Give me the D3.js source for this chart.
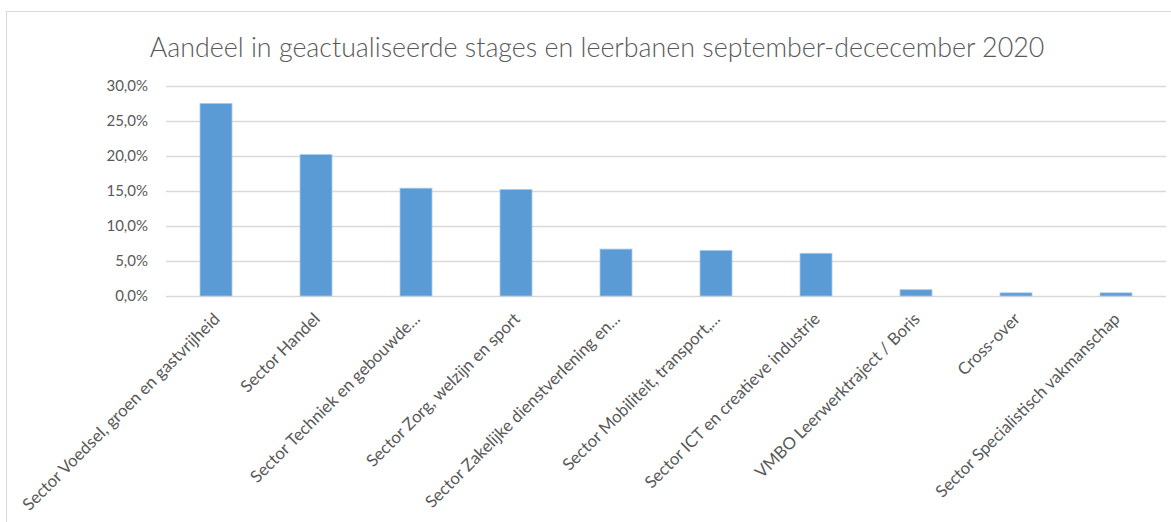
<!DOCTYPE html>
<html><head><meta charset="utf-8">
<script src="https://cdn.jsdelivr.net/npm/d3@7"></script>
<style>body{margin:0;background:#fff}svg{display:block}</style>
</head><body>
<script>
const title = "Aandeel in geactualiseerde stages en leerbanen september-dececember 2020";
const categories = [
  "Sector Voedsel, groen en gastvrijheid",
  "Sector Handel",
  "Sector Techniek en gebouwde...",
  "Sector Zorg, welzijn en sport",
  "Sector Zakelijke dienstverlening en...",
  "Sector Mobiliteit, transport,...",
  "Sector ICT en creatieve industrie",
  "VMBO Leerwerktraject / Boris",
  "Cross-over",
  "Sector Specialistisch vakmanschap"
];
const values = [27.5, 20.2, 15.4, 15.2, 6.7, 6.5, 6.1, 0.9, 0.45, 0.45];
const yTicks = [0, 5, 10, 15, 20, 25, 30];

const W = 1171, H = 522;
const m = {left: 166, right: 5, top: 86, bottom: 226};
const svg = d3.select("body").append("svg").attr("width", W).attr("height", H);

svg.append("rect").attr("x", 6.5).attr("y", 11.5).attr("width", W).attr("height", H + 10)
  .attr("fill", "#fff").attr("stroke", "#d9d9d9");

const x = d3.scaleBand().domain(categories).range([m.left, W - m.right]).paddingInner(0.68).paddingOuter(0.34);
const y = d3.scaleLinear().domain([0, 30]).range([H - m.bottom, m.top]);

const fmt = v => d3.format(".1f")(v).replace(".", ",") + "%";

const yAxis = svg.append("g").attr("transform", `translate(${m.left},0)`)
  .call(d3.axisLeft(y).tickValues(yTicks).tickFormat(fmt).tickSize(-(W - m.right - m.left)).tickPadding(18));
yAxis.select(".domain").remove();
yAxis.selectAll("line").attr("stroke", "#d9d9d9").attr("stroke-width", 1.3);
yAxis.selectAll("text").attr("fill", "#595959").style("font-family", "Lato, sans-serif").style("font-size", "15px");

svg.append("g").selectAll("rect").data(values).join("rect")
  .attr("x", (d, i) => x(categories[i]))
  .attr("width", x.bandwidth())
  .attr("y", d => y(d))
  .attr("height", d => y(0) - y(d))
  .attr("fill", "#5b9bd5")
  .attr("stroke", "#a9c8e8").attr("stroke-width", 0.8);

const xAxis = svg.append("g").attr("transform", `translate(0,${y(0)})`)
  .call(d3.axisBottom(x).tickSize(0).tickPadding(0));
xAxis.select(".domain").remove();
xAxis.selectAll("text")
  .attr("fill", "#595959")
  .style("font-family", "Lato, sans-serif").style("font-size", "16.8px")
  .attr("text-anchor", "end")
  .attr("transform", "translate(5,24) rotate(-45)")
  .attr("dy", 0).attr("y", 0).attr("x", 0);

const t = svg.append("text").attr("x", 597).attr("y", 57).attr("text-anchor", "middle")
  .attr("fill", "#595959").style("font-family", "Lato, sans-serif").style("font-weight", 300)
  .style("font-size", "24px").text(title);
const tw = t.node().getComputedTextLength();
t.style("font-size", (24 * 895 / tw) + "px");
</script>
</body></html>
